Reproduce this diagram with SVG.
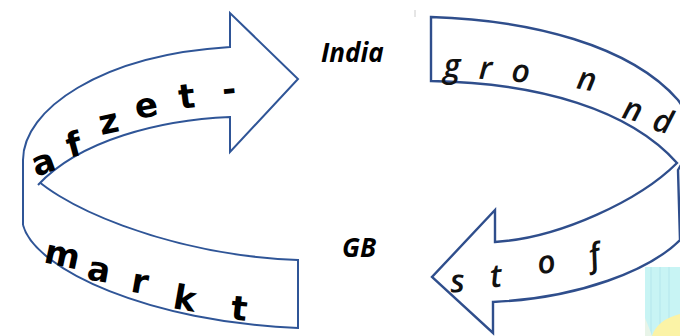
<svg xmlns="http://www.w3.org/2000/svg" width="680" height="336" viewBox="0 0 680 336">
<style>
.band{fill:#ffffff;stroke:#2f5597;stroke-width:2;stroke-linejoin:miter}
.bandR{fill:#ffffff;stroke:#2f4e8c;stroke-width:2.4;stroke-linejoin:miter}
.lt{font-family:"DejaVu Sans",sans-serif;font-weight:bold;font-size:34px;fill:#000;text-anchor:middle}
.rt{font-family:"Open Sans","DejaVu Sans",sans-serif;font-style:italic;font-weight:600;font-size:32px;fill:#111;text-anchor:middle}
.lab{font-family:"Open Sans","Liberation Sans",sans-serif;font-weight:bold;font-style:italic;font-size:26px;fill:#000}
</style>
<rect width="680" height="336" fill="#ffffff"/>
<g id="photo">
<rect x="645" y="267" width="40" height="75" fill="#c8f4f4"/>
<path d="M651,267 V336 M660,267 V336 M669,267 V336" stroke="#b4e6ec" stroke-width="1"/>
<path d="M652,336 C655,326 664,318 680,314 V336 Z" fill="#fbf3a6"/>
<path d="M645,318 C648,325 650,330 652,336 H645 Z" fill="#e8f4e8"/>
</g>
<g id="connectors">
<g id="arrow-left">
<path class="band" d="M23,225 C35,270 150,322 298,328 L298,260 C170,255 50,205 23,165"/>
<path class="band" d="M23,225 L23,160 C23,110 100,55 230,47 L230,13 L298,79 L230,152 L230,117 C160,120 80,140 38,185"/>
</g>
<g id="arrow-right">
<path class="bandR" d="M431,81 L431,17 C530,20 630,45 678,100 C700,130 690,150 678,170 L680,240 C650,270 580,298 493,302 L493,333 L432,277 L495,210 L495,242 C560,238 640,200 677,163 C630,110 540,83 431,81 Z"/>
</g>
</g>
<g id="word-afzet">
<text class="lt" transform="translate(47,173) rotate(-20)">a</text>
<text class="lt" transform="translate(77,156) rotate(-15)">f</text>
<text class="lt" transform="translate(111,133) rotate(-12)">z</text>
<text class="lt" transform="translate(148,117) rotate(-10)">e</text>
<text class="lt" transform="translate(188,108) rotate(-7)">t</text>
<text class="lt" transform="translate(230,101) rotate(-5)">-</text>
</g>
<g id="word-markt">
<text class="lt" transform="translate(60,266) rotate(12)">m</text>
<text class="lt" transform="translate(97,281) rotate(10)">a</text>
<text class="lt" transform="translate(138,293) rotate(10)">r</text>
<text class="lt" transform="translate(183,310) rotate(10)">k</text>
<text class="lt" transform="translate(238,320) rotate(6)">t</text>
</g>
<g id="word-grond">
<text class="rt" transform="translate(452,77) rotate(0)">g</text>
<text class="rt" transform="translate(485,79) rotate(3)">r</text>
<text class="rt" transform="translate(520,82) rotate(5)">o</text>
<text class="rt" transform="translate(585,90) rotate(10)">n</text>
<text class="rt" transform="translate(630,120) rotate(15)">n</text>
<text class="rt" transform="translate(660,132) rotate(15)">d</text>
</g>
<g id="word-stof">
<text class="rt" transform="translate(458,292) rotate(-3)">s</text>
<text class="rt" transform="translate(497,287) rotate(-6)">t</text>
<text class="rt" transform="translate(548,273) rotate(-10)">o</text>
<text class="rt" transform="translate(597,266) rotate(-14)">f</text>
</g>
<g id="label-india"><text class="lab" x="321" y="62">India</text></g>
<g id="label-gb"><text class="lab" x="342" y="257">GB</text></g>
<path d="M415,10 L415,17" stroke="#cccccc" stroke-width="1"/>
</svg>
